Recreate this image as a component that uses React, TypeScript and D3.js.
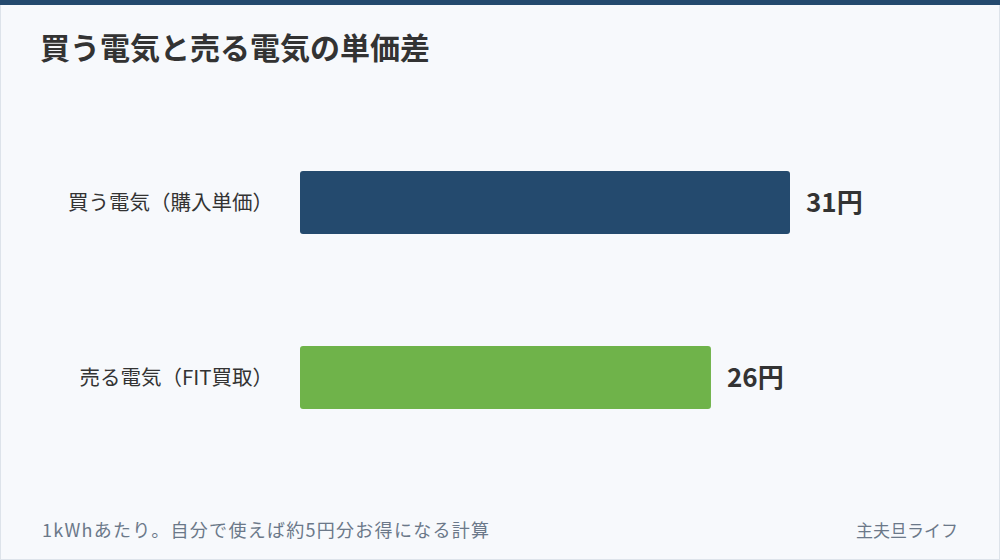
import React, { useEffect, useRef } from 'react';
import * as d3 from 'd3';

const categories = ['買う電気（購入単価）', '売る電気（FIT買取）'];
const prices = [31, 26];
const colors = ['#244a6e', '#6fb34a'];
const title = '買う電気と売る電気の単価差';
const note = '1kWhあたり。自分で使えば約5円分お得になる計算';
const credit = '主夫旦ライフ';

const W = 1000;
const H = 560;
const FONT = '"Noto Sans CJK JP", "Noto Sans", sans-serif';

const App = () => {
  const svgRef = useRef(null);

  useEffect(() => {
    document.body.style.margin = '0';
    if (!svgRef.current) return;

    const svg = d3.select(svgRef.current);
    svg.selectAll('*').remove();

    // background + frame
    svg
      .append('rect')
      .attr('x', 0.5)
      .attr('y', 0.5)
      .attr('width', W - 1)
      .attr('height', H - 1)
      .attr('fill', '#f7f9fc')
      .attr('stroke', '#dde3ea');

    svg
      .append('rect')
      .attr('x', 0)
      .attr('y', 0)
      .attr('width', W)
      .attr('height', 5)
      .attr('fill', '#244a6e');

    svg
      .append('text')
      .attr('x', 40)
      .attr('y', 59)
      .attr('font-size', 30)
      .attr('font-weight', 700)
      .attr('fill', '#333')
      .text(title);

    const x = d3.scaleLinear().domain([0, 31]).range([300, 790]);
    const y = d3
      .scaleBand()
      .domain(categories)
      .range([115, 465])
      .paddingInner(0.64)
      .paddingOuter(0.32);

    const rows = svg
      .selectAll('g.row')
      .data(categories)
      .enter()
      .append('g')
      .attr('class', 'row');

    rows
      .append('rect')
      .attr('x', x(0))
      .attr('y', (d) => y(d))
      .attr('width', (d, i) => x(prices[i]) - x(0))
      .attr('height', y.bandwidth())
      .attr('rx', 3)
      .attr('fill', (d, i) => colors[i]);

    rows
      .append('text')
      .attr('x', 273)
      .attr('y', (d) => y(d) + y.bandwidth() / 2)
      .attr('dy', '0.36em')
      .attr('text-anchor', 'end')
      .attr('font-size', 20.5)
      .attr('fill', '#333')
      .text((d) => d);

    rows
      .append('text')
      .attr('x', (d, i) => x(prices[i]) + 16)
      .attr('y', (d) => y(d) + y.bandwidth() / 2)
      .attr('dy', '0.36em')
      .attr('font-size', 26)
      .attr('font-weight', 700)
      .attr('fill', '#333')
      .text((d, i) => `${prices[i]}円`);

    // footer
    svg
      .append('text')
      .attr('x', 42)
      .attr('y', 537)
      .attr('font-size', 18)
      .attr('textLength', 447)
      .attr('lengthAdjust', 'spacing')
      .attr('fill', '#6b7889')
      .text(note);

    svg
      .append('text')
      .attr('x', 958)
      .attr('y', 537)
      .attr('text-anchor', 'end')
      .attr('font-size', 17)
      .attr('fill', '#6b7889')
      .text(credit);

    return () => {
      svg.selectAll('*').remove();
    };
  }, []);

  return (
    <svg
      ref={svgRef}
      width={W}
      height={H}
      style={{ display: 'block', fontFamily: FONT }}
    />
  );
};

export default App;
